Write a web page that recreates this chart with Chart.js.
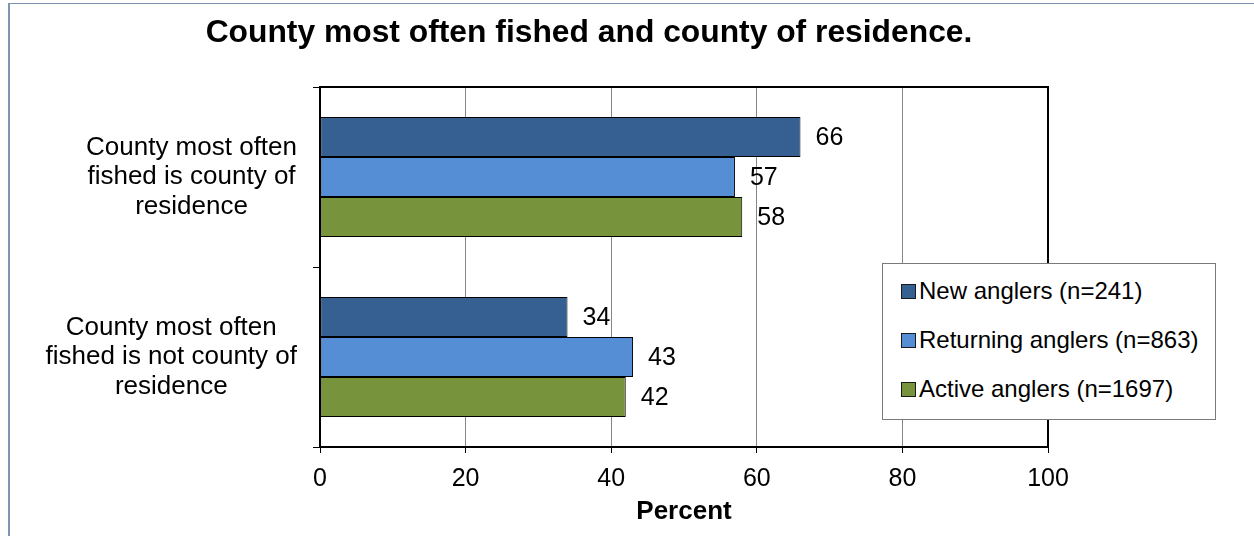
<!DOCTYPE html>
<html>
<head>
<meta charset="utf-8">
<script src="https://cdn.jsdelivr.net/npm/chart.js@4.4.1/dist/chart.umd.min.js"></script>
<style>
  html, body { margin: 0; padding: 0; background: #fff; }
  #wrap { position: relative; width: 1254px; height: 536px; overflow: hidden; background: #fff;
          font-family: "Liberation Sans", Arial, sans-serif; color: #000; }
  #frame { position: absolute; left: 8px; top: 3px; right: -10px; bottom: -10px;
           border-left: 2px solid #7f93b2; border-top: 1px solid #7f93b2; }
  #chart { position: absolute; left: 0; top: 0; }
  #title { position: absolute; left: 0; width: 1178px; top: 15px; text-align: center;
           font-weight: bold; font-size: 31.8px; line-height: 32px; white-space: nowrap; }
  #legend { position: absolute; left: 882px; top: 263px; width: 334px; height: 157px;
            box-sizing: border-box; border: 1px solid #7a7a7a; background: #fff; }
  .item { position: absolute; left: 18px; height: 30px; display: flex; align-items: center;
          font-size: 24px; white-space: nowrap; }
  .swatch { width: 13px; height: 13px; border: 1px solid #1a1a1a; margin-right: 3px; }
</style>
</head>
<body>
<div id="wrap">
  <div id="frame"></div>
  <canvas id="chart" width="1254" height="536"></canvas>
  <div id="title">County most often fished and county of residence.</div>
  <div id="legend"></div>
</div>
<script>
// Category labels (one array of lines per category)
const categories = [
  ["County most often", "fished is county of", "residence"],
  ["County most often", "fished is not county of", "residence"]
];

// Series names and values (percent)
const seriesNames = ["New anglers (n=241)", "Returning anglers (n=863)", "Active anglers (n=1697)"];
const newAnglers = [66, 34];
const returningAnglers = [57, 43];
const activeAnglers = [58, 42];

// Value axis tick labels
const xTicks = [0, 20, 40, 60, 80, 100];

const seriesColors = ["#366092", "#558ed5", "#77933c"];
const FONT = "'Liberation Sans', Arial, sans-serif";

// Category labels drawn as centred text blocks, right edge aligned to the axis
const categoryLabels = {
  id: 'categoryLabels',
  afterDraw(chart) {
    const ctx = chart.ctx;
    const y = chart.scales.y;
    const rightEdge = y.right - 23;
    const lineGap = 29.5;
    ctx.save();
    ctx.font = "26px " + FONT;
    ctx.fillStyle = "#000";
    ctx.textAlign = "center";
    ctx.textBaseline = "middle";
    categories.forEach((lines, i) => {
      const cy = y.getPixelForValue(i);
      const widest = Math.max(...lines.map(l => ctx.measureText(l).width));
      const cx = rightEdge - widest / 2;
      lines.forEach((line, k) => {
        ctx.fillText(line, cx, cy + (k - (lines.length - 1) / 2) * lineGap);
      });
    });
    ctx.restore();
  }
};

// Value labels just past the end of each bar
const valueLabels = {
  id: 'valueLabels',
  afterDatasetsDraw(chart) {
    const ctx = chart.ctx;
    ctx.save();
    ctx.font = "25px " + FONT;
    ctx.fillStyle = "#000";
    ctx.textAlign = "left";
    ctx.textBaseline = "middle";
    chart.data.datasets.forEach((ds, di) => {
      chart.getDatasetMeta(di).data.forEach((bar, i) => {
        ctx.fillText(String(ds.data[i]), bar.x + 15, bar.y + 1);
      });
    });
    ctx.restore();
  }
};

// Black frame round the plot area
const plotFrame = {
  id: 'plotFrame',
  afterDatasetsDraw(chart) {
    const a = chart.chartArea;
    const ctx = chart.ctx;
    ctx.save();
    ctx.strokeStyle = "#000";
    ctx.lineWidth = 2;
    ctx.strokeRect(a.left, a.top, a.right - a.left, a.bottom - a.top);
    ctx.restore();
  }
};

new Chart(document.getElementById('chart'), {
  type: 'bar',
  data: {
    labels: categories,
    datasets: [
      { label: seriesNames[0], data: newAnglers, backgroundColor: seriesColors[0] },
      { label: seriesNames[1], data: returningAnglers, backgroundColor: seriesColors[1] },
      { label: seriesNames[2], data: activeAnglers, backgroundColor: seriesColors[2] }
    ].map(d => Object.assign(d, {
      borderColor: "#000", borderWidth: 1, borderSkipped: false,
      categoryPercentage: 0.667, barPercentage: 1
    }))
  },
  options: {
    indexAxis: 'y',
    responsive: false,
    animation: false,
    devicePixelRatio: 1,
    layout: { padding: { left: 0, right: 206, top: 87, bottom: 0 } },
    plugins: { legend: { display: false }, title: { display: false }, tooltip: { enabled: false } },
    scales: {
      x: {
        type: 'linear', min: 0, max: 100,
        afterBuildTicks: s => { s.ticks = xTicks.map(v => ({ value: v })); },
        afterFit: s => { s.height = 89; },
        grid: { color: "#868686", lineWidth: 1, drawTicks: true, tickLength: 6, tickColor: "#000" },
        border: { display: false },
        ticks: { font: { family: FONT, size: 25 }, color: "#000", padding: 11, maxRotation: 0 },
        title: { display: true, text: "Percent", color: "#000",
                 font: { family: FONT, size: 26, weight: 'bold' }, padding: { top: 0, bottom: 9 } }
      },
      y: {
        type: 'category',
        afterFit: s => { s.width = 320; },
        grid: { drawOnChartArea: false, drawTicks: true, tickLength: 7, color: "#000", offset: true },
        border: { display: false },
        ticks: { display: false }
      }
    }
  },
  plugins: [categoryLabels, valueLabels, plotFrame]
});

// Legend box
const legend = document.getElementById('legend');
const rowCentres = [27, 76, 125];
seriesNames.forEach((name, i) => {
  const row = document.createElement('div');
  row.className = 'item';
  row.style.top = (rowCentres[i] - 15) + 'px';
  const sw = document.createElement('span');
  sw.className = 'swatch';
  sw.style.background = seriesColors[i];
  const tx = document.createElement('span');
  tx.textContent = name;
  row.appendChild(sw);
  row.appendChild(tx);
  legend.appendChild(row);
});
</script>
</body>
</html>
